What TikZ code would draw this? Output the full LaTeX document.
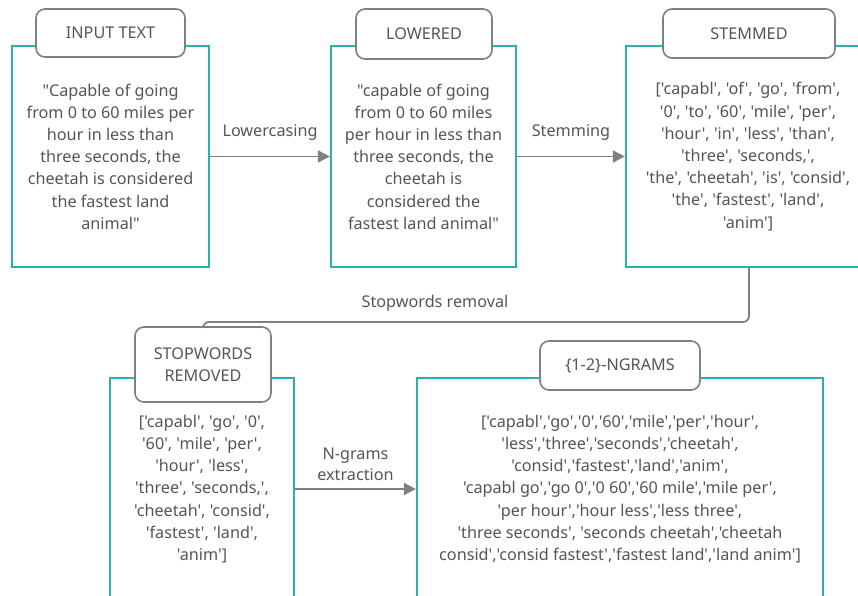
\documentclass[tikz,border=0pt]{standalone}
\usepackage{fontspec}
\setmainfont{Noto Sans}[Ligatures=TeXOff]
\usetikzlibrary{arrows.meta}
\definecolor{tealc}{HTML}{2BB0AB}
\definecolor{gline}{HTML}{808080}
\definecolor{gtext}{HTML}{555555}
\begin{document}
\begin{tikzpicture}[x=1pt,y=-1pt,
  panel/.style={draw=tealc, line width=2.2pt, fill=white, inner sep=0pt,
    align=center, text=gtext, font=\fontsize{16.2}{22.2}\selectfont},
  ttl/.style={draw=gline, line width=1.6pt, fill=white, rounded corners=9pt,
    inner sep=0pt, align=center, text=gtext, font=\fontsize{16.2}{22.2}\selectfont},
  conn/.style={draw=gline, line width=1.8pt, -{Triangle[length=12pt,width=12pt]}},
  link/.style={draw=gline, line width=1.8pt, rounded corners=6pt},
  lbl/.style={text=gtext, font=\fontsize{16.2}{21}\selectfont, align=center, inner sep=1pt}
]
\useasboundingbox (0,0) rectangle (858,596);

% panels
\node[panel, minimum width=197pt, minimum height=221pt] (b1) at (110.5,156.5)
  {"Capable of going\\from 0 to 60 miles per\\hour in less than\\three seconds, the\\cheetah is considered\\the fastest land\\animal"};
\node[panel, minimum width=185pt, minimum height=221pt] (b2) at (423.5,156.5)
  {"capable of going\\from 0 to 60 miles\\per hour in less than\\three seconds, the\\cheetah is\\considered the\\fastest land animal"};
\node[panel, minimum width=244pt, minimum height=221pt] (b3) at (748,156.5)
  {['capabl',  'of', 'go', 'from',\\'0', 'to', '60', 'mile', 'per',\\'hour', 'in', 'less', 'than',\\'three', 'seconds,',\\'the', 'cheetah', 'is', 'consid',\\'the', 'fastest', 'land',\\'anim']};
\node[panel, minimum width=184pt, minimum height=222pt] (b4) at (202,489)
  {['capabl', 'go', '0',\\'60', 'mile', 'per',\\'hour', 'less',\\'three', 'seconds,',\\'cheetah', 'consid',\\'fastest', 'land',\\'anim']};
\node[panel, minimum width=406pt, minimum height=222pt] (b5) at (620,489)
  {['capabl','go','0','60','mile','per','hour',\\'less','three','seconds','cheetah',\\'consid','fastest','land','anim',\\'capabl go','go 0','0 60','60 mile','mile per',\\'per hour','hour less','less three',\\'three seconds', 'seconds cheetah','cheetah\\consid','consid fastest','fastest land','land anim']};

% titles
\node[ttl, minimum width=149pt, minimum height=48pt] (t1) at (110.5,33) {INPUT TEXT};
\node[ttl, minimum width=136pt, minimum height=50pt] (t2) at (424,34) {LOWERED};
\node[ttl, minimum width=172pt, minimum height=49pt] (t3) at (749,33.5) {STEMMED};
\node[ttl, minimum width=136pt, minimum height=75pt] (t4) at (203,364.5) {STOPWORDS\\REMOVED};
\node[ttl, minimum width=160pt, minimum height=49pt] (t5) at (620,365.5) {\{1-2\}-NGRAMS};

% connectors
\draw[conn] (b1) -- node[lbl, above=14pt] {Lowercasing} (b2);
\draw[conn] (b2) -- node[lbl, above=14pt] {Stemming} (b3);
\coordinate (c1) at (749,322);
\coordinate (c2) at (203,322);
\draw[link] (b3.south -| c1) -- (c1) -- (c2) -- (t4.north);
\node[lbl] (sl) at (435,303) {Stopwords removal};
\draw[conn] (b4) -- node[lbl, above=6pt] {N-grams\\extraction} (b5);
\end{tikzpicture}
\end{document}
